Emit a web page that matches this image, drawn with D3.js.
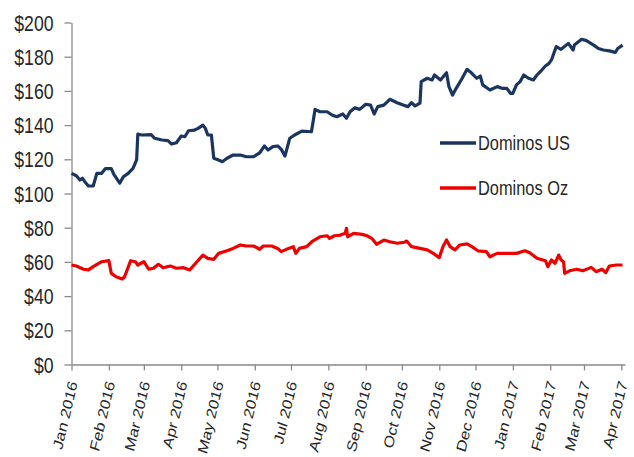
<!DOCTYPE html>
<html>
<head>
<meta charset="utf-8">
<script src="https://cdn.jsdelivr.net/npm/d3@7"></script>
<style>
  body { margin: 0; background: #fff; }
  text { font-family: "Liberation Sans", Arial, sans-serif; fill: #262626; }
</style>
</head>
<body>
<div id="chart"></div>
<script>
// share prices (dates / USD)
const usDates = ['2016-01-01','2016-01-05','2016-01-08','2016-01-10','2016-01-12','2016-01-15','2016-01-19','2016-01-22','2016-01-26','2016-01-29',
    '2016-02-03','2016-02-05','2016-02-10','2016-02-13','2016-02-17','2016-02-21','2016-02-24','2016-02-25','2016-02-28',
    '2016-03-07','2016-03-10','2016-03-16','2016-03-21','2016-03-24','2016-03-28',
    '2016-04-01','2016-04-04','2016-04-07','2016-04-12','2016-04-15','2016-04-19','2016-04-21','2016-04-23','2016-04-26','2016-04-28',
    '2016-05-02','2016-05-05','2016-05-09','2016-05-14','2016-05-20','2016-05-25','2016-05-31',
    '2016-06-05','2016-06-09','2016-06-12','2016-06-16','2016-06-20','2016-06-23','2016-06-26','2016-06-30',
    '2016-07-04','2016-07-10','2016-07-18','2016-07-21','2016-07-25','2016-07-31',
    '2016-08-04','2016-08-08','2016-08-13','2016-08-16','2016-08-19','2016-08-23','2016-08-27',
    '2016-09-01','2016-09-05','2016-09-08','2016-09-11','2016-09-16','2016-09-21','2016-09-27',
    '2016-10-02','2016-10-06','2016-10-09','2016-10-12','2016-10-16','2016-10-17','2016-10-22','2016-10-26','2016-10-28',
    '2016-11-02','2016-11-07','2016-11-09','2016-11-12','2016-11-15','2016-11-20','2016-11-24','2016-11-28',
    '2016-12-02','2016-12-05','2016-12-07','2016-12-13','2016-12-19','2016-12-23','2016-12-27','2016-12-30',
    '2017-01-01','2017-01-04','2017-01-07','2017-01-10','2017-01-14','2017-01-18','2017-01-21','2017-01-25','2017-01-28','2017-01-31',
    '2017-02-02','2017-02-06','2017-02-10','2017-02-16','2017-02-20','2017-02-21','2017-02-27',
    '2017-03-03','2017-03-09','2017-03-13','2017-03-17','2017-03-22','2017-03-27','2017-03-29','2017-04-02'];
const usPrices = [111.8,110.4,107.9,108.9,106.9,104.4,104.4,111.8,111.8,114.5,
    114.5,111.4,106,109.8,111.8,114.7,119.6,134.8,134.2,
    134.4,132.3,131.3,130.9,128.9,129.7,
    133.6,133.2,136.7,137.1,138.1,140,138.1,134.2,134.2,120.6,
    119.6,118.6,120.6,122.5,122.5,121.5,121.5,
    123.7,127.8,125.4,127.4,127.8,125.8,121.9,132.3,
    134.2,136.5,136.1,149.2,147.8,147.8,
    145.9,144.9,146.5,144,147.8,150.2,149.2,
    152.2,151.7,146.5,150.8,151.7,155.1,153.1,
    151.7,150.8,153.1,151.2,152.8,165.4,167.4,166.4,169.3,
    166.4,170.6,162.5,157.6,161.5,167.4,172.6,170.3,
    167.4,168.7,163.5,160.5,162.5,161.5,161.5,158.6,
    158.6,163.5,165.4,169.3,167.4,166.4,169.3,172.2,174.6,176.1,
    178.1,185.9,184.3,187.8,183.9,186.8,190.2,
    189.4,186.8,184.8,183.9,183.4,182.5,184.8,186.8];

const ozDates = ['2016-01-01','2016-01-05','2016-01-11','2016-01-15','2016-01-19','2016-01-26',
    '2016-02-01','2016-02-03','2016-02-07','2016-02-12','2016-02-14','2016-02-19','2016-02-23','2016-02-25',
    '2016-03-01','2016-03-05','2016-03-09','2016-03-13','2016-03-17','2016-03-23','2016-03-28',
    '2016-04-03','2016-04-08','2016-04-14','2016-04-19','2016-04-23','2016-04-28',
    '2016-05-02','2016-05-09','2016-05-14','2016-05-20','2016-05-25','2016-05-31',
    '2016-06-05','2016-06-08','2016-06-15','2016-06-20','2016-06-23','2016-06-29',
    '2016-07-03','2016-07-05','2016-07-08','2016-07-14','2016-07-19','2016-07-25','2016-07-31',
    '2016-08-02','2016-08-06','2016-08-11','2016-08-15','2016-08-16','2016-08-17','2016-08-22','2016-08-29',
    '2016-09-02','2016-09-06','2016-09-10','2016-09-16','2016-09-21','2016-09-27',
    '2016-10-03','2016-10-05','2016-10-09','2016-10-16','2016-10-22','2016-10-27',
    '2016-11-01','2016-11-04','2016-11-07','2016-11-10','2016-11-14','2016-11-18','2016-11-24','2016-11-28',
    '2016-12-03','2016-12-10','2016-12-13','2016-12-19','2016-12-27',
    '2017-01-04','2017-01-11','2017-01-15','2017-01-21','2017-01-28','2017-01-30',
    '2017-02-02','2017-02-05','2017-02-08','2017-02-10','2017-02-12','2017-02-13','2017-02-17','2017-02-23','2017-02-28',
    '2017-03-07','2017-03-11','2017-03-16','2017-03-19','2017-03-22','2017-03-28','2017-04-02'];
const ozPrices = [58.2,57.6,55.7,55.3,57.2,60.1,
    60.7,53.3,51.3,50,51.3,60.7,60.1,58.2,
    60.1,55.7,56.3,58.6,56.6,57.6,56.3,
    56.6,55.3,60.1,64,62.1,61.5,
    65,66.5,67.9,69.9,69.3,69.3,
    67.4,69.3,69.3,67.9,66,67.9,
    68.9,65,67.9,68.9,72.2,74.7,75.3,
    73.8,75.3,75.7,76.7,79.6,74.7,76.7,76.1,
    75.3,73.8,70.3,72.8,71.8,70.9,
    71.5,72.2,68.9,67.9,67,65,
    62.5,68.9,72.8,68.9,67,69.9,70.5,68.9,
    66.5,66,63,65,65,
    65,66.5,65.4,62.1,60.7,57.2,
    61.1,59.2,64,61.1,60.1,53.3,54.8,55.7,54.8,
    56.8,54.3,55.7,53.7,57.6,58.2,58.2];

const yTicks = [0, 20, 40, 60, 80, 100, 120, 140, 160, 180, 200];
const seriesNames = ['Dominos US', 'Dominos Oz'];
const seriesColors = ['#1a3660', '#ee0000'];

const width = 634, height = 457;
const squeeze = 0.82; // the text in the picture is drawn narrow

const parse = d3.timeParse('%Y-%m-%d');
const series = [
    usDates.map((d, i) => ({ date: parse(d), value: usPrices[i] })),
    ozDates.map((d, i) => ({ date: parse(d), value: ozPrices[i] }))
];

const svg = d3.select('#chart').append('svg')
    .attr('width', width)
    .attr('height', height);

const x = d3.scaleTime()
    .domain([parse('2016-01-01'), parse('2017-04-04')])
    .range([71.5, 625]);
const y = d3.scaleLinear()
    .domain([0, 200])
    .range([364.5, 22.5]);

// y axis
const yAxis = svg.append('g')
    .attr('transform', 'translate(71.5,0)')
    .call(d3.axisLeft(y).tickValues(yTicks).tickSize(7).tickSizeOuter(0).tickFormat(d => '$' + d));
yAxis.select('.domain').attr('stroke', '#8a8a8a').attr('stroke-width', 1.3);
yAxis.selectAll('.tick line').attr('stroke', '#8a8a8a').attr('stroke-width', 1.3);
yAxis.selectAll('.tick text')
    .attr('x', null)
    .attr('dy', null)
    .attr('transform', `translate(-18,7.5) scale(${squeeze},1)`)
    .attr('font-size', 21.5)
    .attr('font-family', null);

// x axis
const xAxis = svg.append('g')
    .attr('transform', 'translate(0,364.5)')
    .call(d3.axisBottom(x).ticks(d3.timeMonth.every(1)).tickSize(6).tickSizeOuter(0).tickFormat(d3.timeFormat('%b %Y')));
xAxis.select('.domain').attr('stroke', '#8a8a8a').attr('stroke-width', 1.3);
xAxis.selectAll('.tick line').attr('stroke', '#8a8a8a').attr('stroke-width', 1.3);
xAxis.selectAll('.tick text')
    .attr('x', 0)
    .attr('y', 0)
    .attr('dy', '0.35em')
    .attr('text-anchor', 'end')
    .attr('transform', `translate(1,17) scale(${squeeze},1) rotate(-74)`)
    .attr('font-size', 17)
    .attr('font-family', null);

svg.selectAll('.domain, .tick text').attr('fill', null);
svg.selectAll('.tick text').attr('fill', '#262626');

// lines
const line = d3.line()
    .x(d => x(d.date))
    .y(d => y(d.value));

svg.selectAll('path.series')
    .data(series)
    .enter()
    .append('path')
    .attr('class', 'series')
    .attr('d', line)
    .attr('fill', 'none')
    .attr('stroke', (d, i) => seriesColors[i])
    .attr('stroke-width', 3.2)
    .attr('stroke-linejoin', 'round');

// legend
const legend = svg.selectAll('g.legend')
    .data(seriesNames)
    .enter()
    .append('g')
    .attr('class', 'legend')
    .attr('transform', (d, i) => `translate(440,${143 + i * 45})`);

legend.append('line')
    .attr('x1', 0)
    .attr('x2', 36)
    .attr('stroke', (d, i) => seriesColors[i])
    .attr('stroke-width', 3.5);

legend.append('text')
    .attr('transform', `translate(38,7) scale(${squeeze},1)`)
    .attr('font-size', 20)
    .text(d => d);
</script>
</body>
</html>
